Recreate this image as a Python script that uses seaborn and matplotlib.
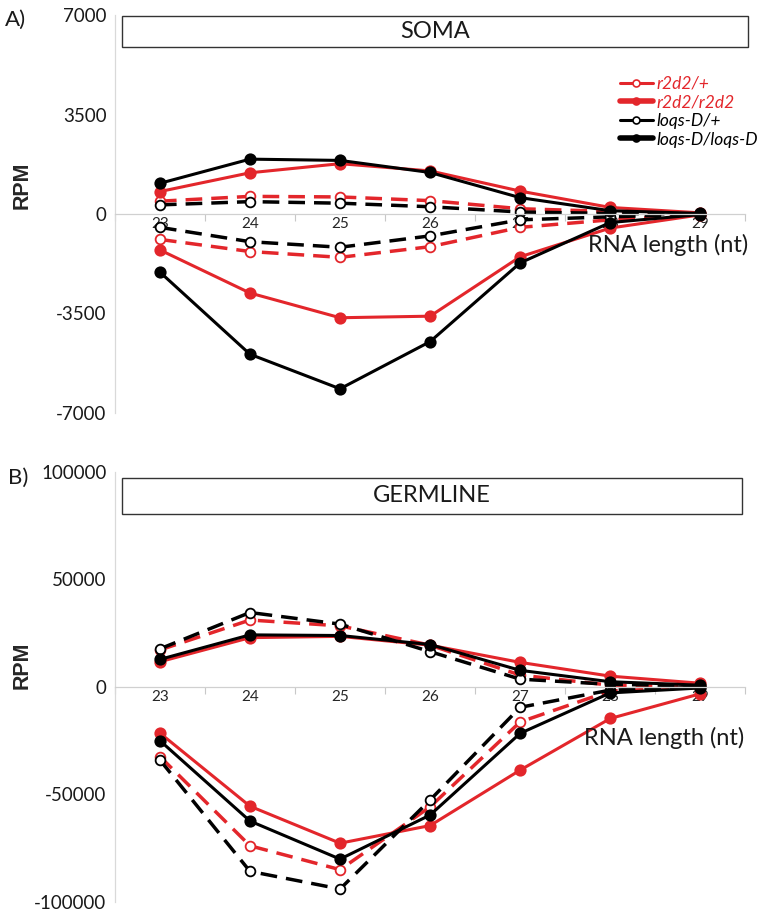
import numpy as np
import pandas as pd
import matplotlib
matplotlib.use('Agg')
import matplotlib.pyplot as plt
from matplotlib.lines import Line2D
from matplotlib.patches import Rectangle
from matplotlib.ticker import FixedLocator
from matplotlib.legend_handler import HandlerLine2D
import seaborn as sns

sns.set_theme(style='white')
plt.rcParams['font.family'] = ['Lato', 'DejaVu Sans']

# ---------------- data (RPM) ----------------
lengths = [23, 24, 25, 26, 27, 28, 29]
genotypes = ['r2d2/+', 'r2d2/r2d2', 'loqs-D/+', 'loqs-D/loqs-D']

# SOMA, sense (positive) and antisense (negative)
soma_pos = {
    'r2d2/+':        [450, 620, 600, 470, 185, 90, 20],
    'r2d2/r2d2':     [790, 1450, 1770, 1515, 805, 230, 40],
    'loqs-D/+':      [320, 435, 380, 255, 70, 20, 0],
    'loqs-D/loqs-D': [1080, 1930, 1885, 1460, 575, 115, 20],
}
soma_neg = {
    'r2d2/+':        [-895, -1320, -1525, -1150, -470, -205, -30],
    'r2d2/r2d2':     [-1265, -2780, -3650, -3595, -1505, -495, -30],
    'loqs-D/+':      [-470, -975, -1170, -770, -205, -100, 0],
    'loqs-D/loqs-D': [-2045, -4935, -6150, -4490, -1720, -300, -20],
}

# GERMLINE
germ_pos = {
    'r2d2/+':        [17200, 31100, 28400, 19400, 5500, 800, 400],
    'r2d2/r2d2':     [11700, 22900, 23500, 19400, 11400, 5000, 1700],
    'loqs-D/+':      [17700, 34600, 29200, 16400, 3600, 1200, 450],
    'loqs-D/loqs-D': [12800, 24200, 23900, 19700, 7700, 2400, 800],
}
germ_neg = {
    'r2d2/+':        [-32400, -73900, -85000, -55800, -16300, -1900, -200],
    'r2d2/r2d2':     [-21500, -55500, -72700, -64500, -38700, -14700, -3200],
    'loqs-D/+':      [-34000, -85800, -94000, -52600, -9500, -1500, -200],
    'loqs-D/loqs-D': [-25000, -62400, -80100, -59600, -21600, -2800, -500],
}

soma_ticks = [-7000, -3500, 0, 3500, 7000]
germ_ticks = [-100000, -50000, 0, 50000, 100000]

colors = {'r2d2/+': '#e3262b', 'r2d2/r2d2': '#e3262b',
          'loqs-D/+': '#000000', 'loqs-D/loqs-D': '#000000'}
dashed = {'r2d2/+': True, 'r2d2/r2d2': False, 'loqs-D/+': True, 'loqs-D/loqs-D': False}
TXT = '#1a1a1a'


def long_table(pos, neg):
    rows = []
    for g in genotypes:
        for strand, vals in (('pos', pos[g]), ('neg', neg[g])):
            for l, v in zip(lengths, vals):
                rows.append({'length': l, 'rpm': v, 'genotype': g, 'strand': strand})
    return pd.DataFrame(rows)


def draw_panel(ax, df, ylim, ticks, title, box):
    for g in genotypes:
        for strand in ('pos', 'neg'):
            sub = df[(df.genotype == g) & (df.strand == strand)]
            open_m = dashed[g]
            sns.lineplot(data=sub, x='length', y='rpm', ax=ax, color=colors[g],
                         lw=2.5 if open_m else 2.2, marker='o',
                         markersize=7 if open_m else 7.5,
                         markerfacecolor='white' if open_m else colors[g],
                         markeredgecolor=colors[g], markeredgewidth=1.3,
                         legend=False, estimator=None, sort=False)
            if open_m:
                ax.lines[-1].set_dashes((4.8, 2.6))
    ax.set_xlim(22.5, 29.5)
    ax.set_ylim(*ylim)
    ax.yaxis.set_major_locator(FixedLocator(ticks))
    ax.set_yticklabels([str(t) for t in ticks], fontsize=13.5, color=TXT)
    ax.set_xticks(lengths)
    ax.set_xticklabels([str(l) for l in lengths], fontsize=13, color=TXT)
    ax.xaxis.set_minor_locator(FixedLocator(np.arange(22.5, 30, 1)))
    ax.tick_params(axis='x', which='major', length=0, pad=2)
    ax.tick_params(axis='x', which='minor', length=5, width=0.8, color='#c8c8c8',
                   direction='out', bottom=True)
    ax.tick_params(axis='y', length=0, pad=6)
    ax.set_xlabel('')
    ax.set_ylabel('')
    for s in ('top', 'right'):
        ax.spines[s].set_visible(False)
    ax.spines['bottom'].set_position(('data', 0))
    ax.spines['bottom'].set_color('#d0d0d0')
    ax.spines['left'].set_color('#d9d9d9')
    ax.spines['bottom'].set_linewidth(0.9)
    ax.spines['left'].set_linewidth(0.9)
    ax.set_facecolor('white')
    x0, y0, x1, y1 = box
    ax.add_patch(Rectangle((x0, y0), x1 - x0, y1 - y0, transform=ax.transAxes,
                           facecolor='white', edgecolor='#333333', lw=1.0,
                           clip_on=False, zorder=5))
    ax.text((x0 + x1) / 2, (y0 + y1) / 2, title, transform=ax.transAxes,
            ha='center', va='center', fontsize=17, color=TXT, zorder=6)


class EndMarker(HandlerLine2D):
    # marker drawn near the right end of the legend line, as in the original
    def get_xdata(self, legend, xdescent, ydescent, width, height, fontsize):
        xdata = np.array([-xdescent, -xdescent + width])
        return xdata, np.array([-xdescent + width * 0.78])


fig = plt.figure(figsize=(7.66, 9.11), dpi=100)
axA = fig.add_axes([0.150, 0.5467, 0.823, 0.4368])
axB = fig.add_axes([0.150, 0.0100, 0.823, 0.4720])

draw_panel(axA, long_table(soma_pos, soma_neg), (-7000, 7000), soma_ticks, 'SOMA',
           (0.011, 0.920, 1.005, 0.997))
draw_panel(axB, long_table(germ_pos, germ_neg), (-100000, 100000), germ_ticks, 'GERMLINE',
           (0.011, 0.902, 0.994, 0.986))

axA.text(1.005, 0.422, 'RNA length (nt)', transform=axA.transAxes, ha='right', va='center',
         fontsize=17, color=TXT)
axB.text(0.998, 0.381, 'RNA length (nt)', transform=axB.transAxes, ha='right', va='center',
         fontsize=17, color=TXT)

fig.text(0.029, 0.797, 'RPM', rotation=90, ha='center', va='center', fontsize=15.5,
         fontweight='bold', family='Liberation Sans')
fig.text(0.029, 0.270, 'RPM', rotation=90, ha='center', va='center', fontsize=15.5,
         fontweight='bold', family='Liberation Sans')
fig.text(0.006, 0.978, 'A)', ha='left', va='center', fontsize=16, color=TXT)
fig.text(0.010, 0.476, 'B)', ha='left', va='center', fontsize=16, color=TXT)

# legend
handles = []
for g in genotypes:
    open_m = dashed[g]
    handles.append(Line2D([], [], color=colors[g], lw=2.2 if open_m else 4,
                          marker='o', markersize=5,
                          markerfacecolor='white' if open_m else colors[g],
                          markeredgecolor=colors[g], markeredgewidth=1.2))
leg = axA.legend(handles, genotypes, loc='upper left', bbox_to_anchor=(0.79, 0.865),
                 frameon=False, fontsize=12.5, handlelength=1.9, handletextpad=0.2,
                 labelspacing=0.15, borderaxespad=0, numpoints=1,
                 handler_map={Line2D: EndMarker()})
for t, g in zip(leg.get_texts(), genotypes):
    t.set_fontstyle('italic')
    t.set_color(colors[g])

fig.savefig('out.png', dpi=100)
